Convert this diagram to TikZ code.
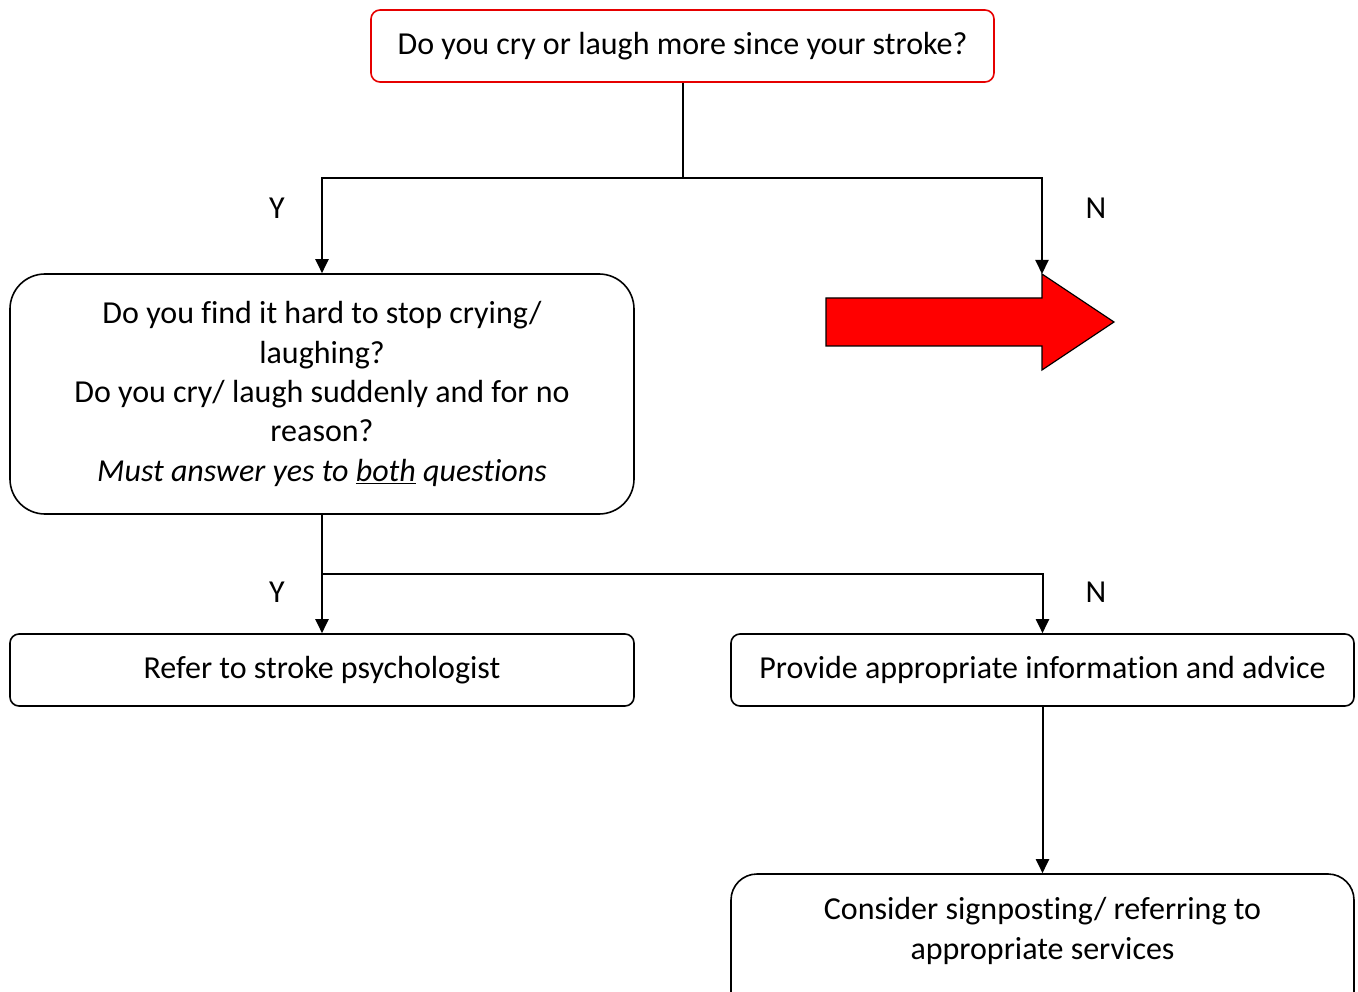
\documentclass[tikz,border=0pt]{standalone}
\usepackage{fontspec}
\setmainfont{Carlito}[Ligatures=NoCommon]
\usetikzlibrary{arrows.meta}
\begin{document}
\begin{tikzpicture}[x=1pt,y=-1pt,
  txt/.style={font=\fontsize{32}{39.3}\selectfont},
  box/.style={txt, draw, line width=1.6pt, rounded corners=9pt, align=center, inner sep=0pt},
  conn/.style={line width=2pt, -{Triangle[width=13pt,length=14pt]}}]
\useasboundingbox (0,0) rectangle (1358,992);
\clip (0,0) rectangle (1358,992);

% question boxes
\node[box, draw={rgb,255:red,230;green,0;blue,0}, minimum width=623pt, minimum height=72pt]
  (q1) at (682.5,46) {Do you cry or laugh more since your stroke?};
\node[box, rounded corners=35pt, minimum width=624pt, minimum height=240pt]
  (q2) at (322,394) {Do you find it hard to stop crying/\\laughing?\\Do you cry/ laugh suddenly and for no\\reason?\\\textit{Must answer yes to \underline{both} questions}};

% outcome boxes
\node[box, minimum width=624pt, minimum height=72pt]
  (r1) at (322,670) {Refer to stroke psychologist};
\node[box, minimum width=623pt, minimum height=72pt]
  (r2) at (1042.5,670) {Provide appropriate information and advice};
\node[box, rounded corners=26pt, minimum width=623pt, minimum height=150pt]
  (r3) at (1042.5,949) {};
\node[txt, align=center, inner sep=0pt] (r3text) at (1042.5,931)
  {Consider signposting/ referring to\\appropriate services};

% red block arrow
\draw[line width=1.2pt, fill={rgb,255:red,255;green,0;blue,0}]
  (826,298) -- (1042,298) -- (1042,274) -- (1114,322) -- (1042,370)
  -- (1042,346) -- (826,346) -- cycle;
\coordinate (arrowtop) at (1042,274);

% branch points
\coordinate (split1) at (682.5,178);
\coordinate (split2) at (322,574);

% connectors
\draw[line width=2pt] (q1.south) -- (split1);
\draw[conn] (split1) -| (q2.north);
\draw[conn] (split1) -| (arrowtop);
\draw[conn] (q2.south) -- (r1.north);
\draw[conn] (split2) -| (r2.north);
\draw[conn] (r2.south) -- (r3.north);

% branch labels
\node[txt] (y1) at (277,208) {Y};
\node[txt] (n1) at (1096,208) {N};
\node[txt] (y2) at (277,592) {Y};
\node[txt] (n2) at (1096,592) {N};
\end{tikzpicture}
\end{document}
